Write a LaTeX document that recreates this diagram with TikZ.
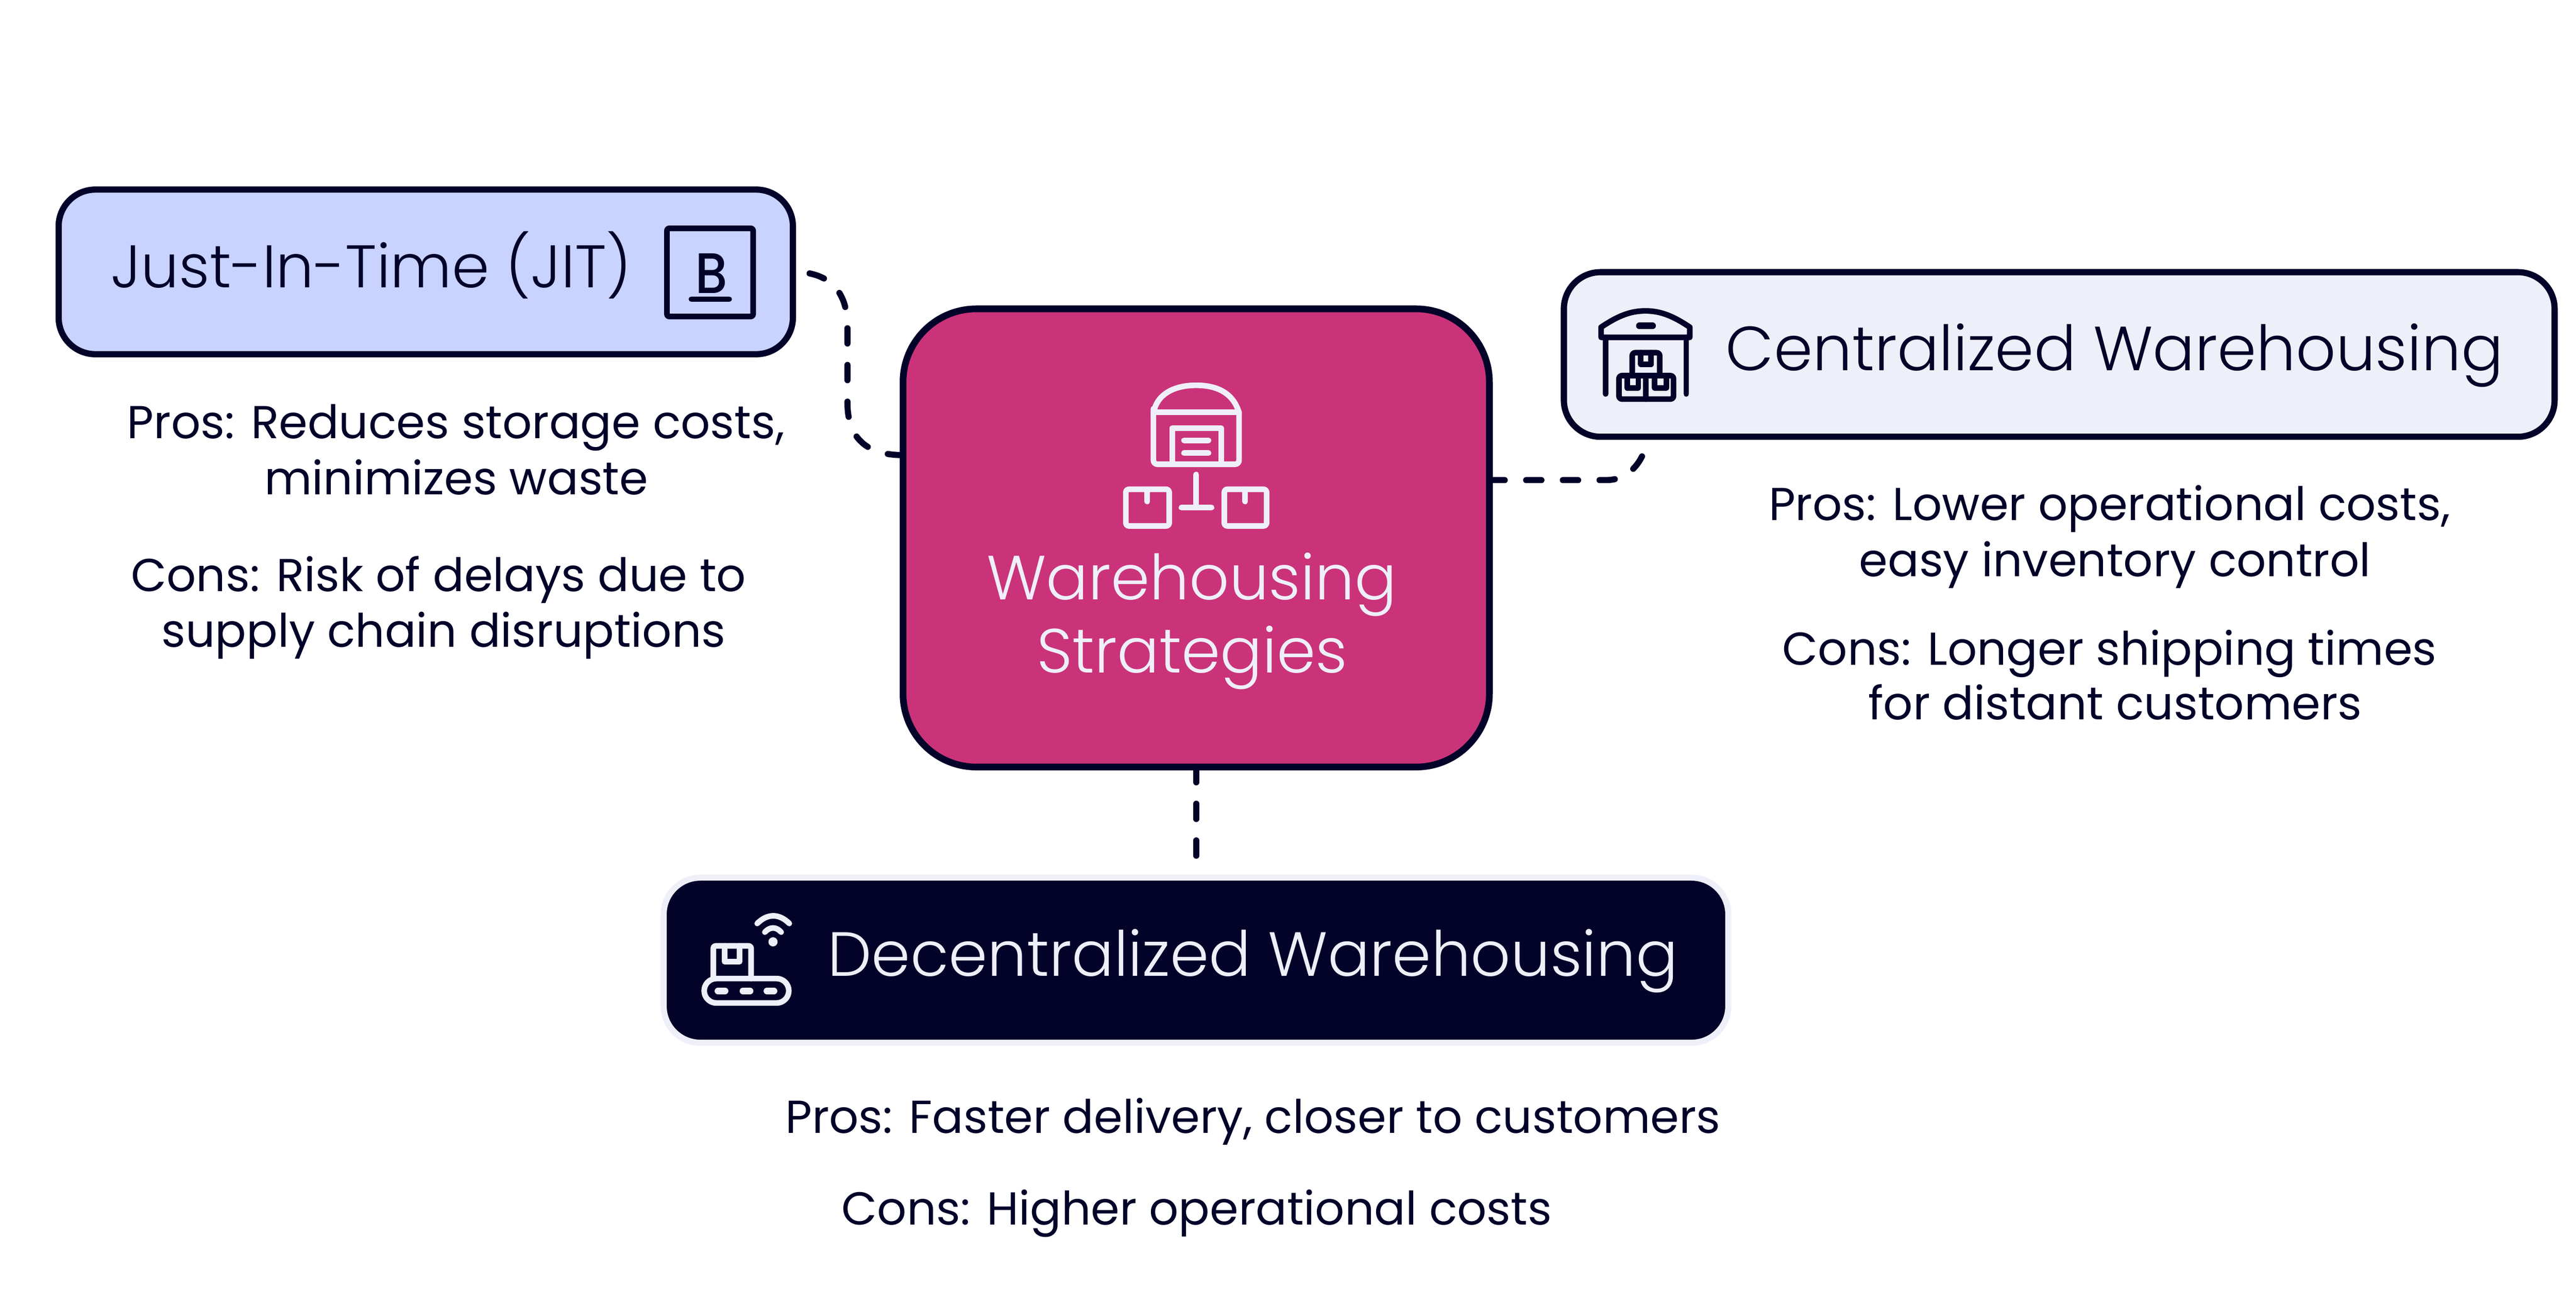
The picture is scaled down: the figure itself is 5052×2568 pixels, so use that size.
\documentclass[tikz,border=0pt]{standalone}
\usepackage{fontspec}
\setmainfont{Poppins}[UprightFont=* Light]
\newfontfamily\notefont{Poppins}
\newfontfamily\markfont{Poppins}[UprightFont=* Medium]
\usetikzlibrary{calc}
\definecolor{ink}{HTML}{03032A}
\definecolor{paper}{HTML}{EFEFF9}
\definecolor{rose}{HTML}{CA337A}
\definecolor{sky}{HTML}{C8D3FF}
\tikzset{
  x=0.5pt,y=-0.5pt,
  box/.style={draw=ink,line width=6.1pt,rounded corners=36pt,outer sep=0pt,inner sep=0pt},
  big/.style={anchor=base,inner sep=0pt,font=\fontsize{61.2}{70}\selectfont},
  small/.style={anchor=base,inner sep=0pt,text=ink,font=\notefont\fontsize{45.3}{52}\selectfont},
  link/.style={draw=ink,line width=6pt,line cap=round,dash pattern=on 15pt off 21pt},
  icon/.style={line width=5.5pt,line cap=round,line join=round},
}
\begin{document}
\begin{tikzpicture}
\useasboundingbox (0,0) rectangle (5052,2568);
% boxes
\node[box,fill=rose,minimum width=575pt,minimum height=449.5pt,rounded corners=72pt,line width=6.6pt] (central) at (2346,1055.5) {};
\node[box,fill=sky,minimum width=720pt,minimum height=161.5pt] (jit) at (835,533.5) {};
\node[box,fill=paper,minimum width=971.5pt,minimum height=161.5pt] (cen) at (4038.5,695.5) {};
\node[box,draw=paper,fill=ink,minimum width=1044pt,minimum height=162pt,line width=6pt] (dec) at (2345.5,1884) {};
% connectors
\draw[link] ([yshift=81.25pt]central.west) .. controls (1700,893) and (1662,860) .. (1662,790) -- (1662,640) .. controls (1662,570) and (1625,533) .. (jit.east);
\draw[link] ([yshift=56.75pt]central.east) -- (3150,942) .. controls (3195,942) and (3225,905) .. ([xshift=-403.25pt]cen.south);
\draw[link,shorten >=10pt] (central.south) -- (central.south |- dec.north);
% central icon
\begin{scope}[icon,draw=paper]
\draw (2262,810) .. controls (2272,775) and (2300,756) .. (2346,756) .. controls (2392,756) and (2420,775) .. (2430,810) -- (2430,905) [rounded corners=4pt] -- (2430,911) -- (2262,911) -- (2262,810) -- cycle;
\draw (2262,809) -- (2430,809);
\draw (2299,911) -- (2299,840) -- (2395,840) -- (2395,911);
\draw (2322,864) -- (2370,864);
\draw (2322,889) -- (2370,889);
\draw (2346,931) -- (2346,996);
\draw (2317,996) -- (2376,996);
\draw[rounded corners=3pt] (2208,960) rectangle (2293,1032);
\draw (2250,960) -- (2250,984);
\draw[rounded corners=3pt] (2401,960) rectangle (2484,1032);
\draw (2442,960) -- (2442,984);
\end{scope}
% JIT icon
\begin{scope}[icon,draw=ink]
\draw[rounded corners=2pt] (1308,448) rectangle (1477,621);
\draw (1356,587) -- (1430,587);
\end{scope}
\node[anchor=base,inner sep=0pt,text=ink,font=\markfont\fontsize{56}{60}\selectfont,xscale=0.9] (bicon) at (1395,575) {B};
% centralized icon
\begin{scope}[icon,draw=ink]
\draw (3140,662) -- (3140,642) .. controls (3170,622) and (3195,610) .. (3227,610) .. controls (3259,610) and (3284,622) .. (3314,642) -- (3314,662) -- cycle;
\draw (3149,662) -- (3149,773);
\draw (3307,662) -- (3307,773);
\draw[line width=6.5pt] (3215,639.5) -- (3241,639.5);
\draw[rounded corners=3pt] (3201,732) -- (3201,692) -- (3255,692) -- (3255,732);
\draw (3218,692) -- (3218,715) -- (3238,715) -- (3238,692);
\draw[rounded corners=3pt] (3175,737) rectangle (3282,783);
\draw (3228,737) -- (3228,783);
\draw (3191,737) -- (3191,761) -- (3213,761) -- (3213,737);
\draw (3245,737) -- (3245,761) -- (3268,761) -- (3268,737);
\end{scope}
% decentralized icon
\begin{scope}[icon,draw=paper]
\draw[rounded corners=12pt] (1381,1920) rectangle (1547,1968);
\draw[rounded corners=2pt] (1399,1920) -- (1399,1856) -- (1473,1856) -- (1473,1920);
\draw (1421,1856) -- (1421,1887) -- (1450,1887) -- (1450,1856);
\draw[line width=6.5pt] (1408,1944.5) -- (1422,1944.5);
\draw[line width=6.5pt] (1457,1944.5) -- (1471,1944.5);
\draw[line width=6.5pt] (1504,1944.5) -- (1518,1944.5);
\draw (1485,1812) .. controls (1505,1792) and (1528,1792) .. (1548,1812);
\draw (1500,1829) .. controls (1510,1818) and (1522,1818) .. (1532,1829);
\fill[paper] (1516,1848) ellipse [x radius=4.5pt,y radius=4.5pt];
\end{scope}
% labels
\node[big,text=paper] (t1a) at (2337,1177) {Warehousing};
\node[big,text=paper] (t1b) at (2338,1320) {Strategies};
\node[big,text=ink,font=\fontsize{59}{70}\selectfont] (t2) at (728,564) {Just-In-Time (JIT)};
\node[big,text=ink] (t3) at (4147,727) {Centralized Warehousing};
\node[big,text=paper] (t4) at (2457,1915) {Decentralized Warehousing};
% notes
\node[small] (a1) at (894,860) {Pros: Reduces storage costs,};
\node[small] (a2) at (895,970) {minimizes waste};
\node[small] (a3) at (860,1160) {Cons: Risk of delays due to};
\node[small] (a4) at (870,1270) {supply chain disruptions};
\node[small] (b1) at (4137,1021) {Pros: Lower operational costs,};
\node[small] (b2) at (4148,1131) {easy inventory control};
\node[small] (b3) at (4137,1305) {Cons: Longer shipping times};
\node[small] (b4) at (4148,1412) {for distant customers};
\node[small] (c1) at (2457,2223) {Pros: Faster delivery, closer to customers};
\node[small] (c2) at (2347,2403) {Cons: Higher operational costs};
\end{tikzpicture}
\end{document}
